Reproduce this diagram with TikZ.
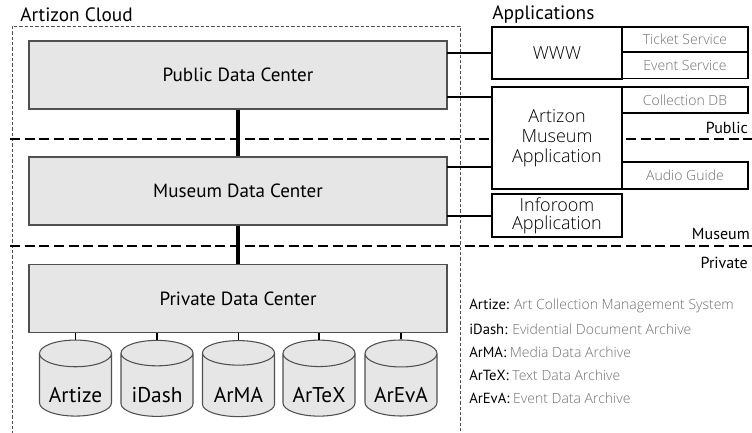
\documentclass[tikz,border=0pt]{standalone}
\usepackage{fontspec}
\setmainfont{PT Sans}
\IfFontExistsTF{Open Sans Light}{\newfontfamily\appfont{Open Sans Light}}{\newfontfamily\appfont{Open Sans}}
\usetikzlibrary{shapes.geometric}
\definecolor{boxfill}{HTML}{E6E6E6}
\definecolor{boxline}{HTML}{505050}
\definecolor{svcgray}{HTML}{707070}
\begin{document}
\begin{tikzpicture}[x=0.75pt,y=-0.75pt,
  dc/.style={draw=boxline,fill=boxfill,line width=0.8pt,minimum width=313.5pt,minimum height=51pt,inner sep=0pt,font=\fontsize{14.3}{16}\selectfont},
  app/.style={draw=black,fill=white,line width=0.8pt,minimum width=97.5pt,inner sep=0pt,align=center,font=\appfont\fontsize{13.5}{15}\selectfont},
  svc/.style={draw=black,fill=white,line width=0.8pt,minimum width=94.5pt,inner sep=0pt,text=svcgray,font=\appfont\fontsize{10.5}{12}\selectfont},
  db/.style={cylinder,shape border rotate=90,aspect=0.5,draw=boxline,fill=boxfill,line width=0.8pt,minimum width=54pt,minimum height=57pt,inner sep=0pt,font=\fontsize{16}{18}\selectfont},
  dblabel/.style={inner sep=0pt,font=\fontsize{16}{18}\selectfont},
  zone/.style={line width=2.2pt,dash pattern=on 7.5pt off 3.5pt},
  thick link/.style={line width=2.4pt},
  link/.style={line width=1.1pt},
  zonelabel/.style={anchor=east,inner sep=0pt,font=\fontsize{12}{13}\selectfont},
  legend/.style={anchor=west,inner sep=0pt,text=svcgray,font=\appfont\fontsize{10.5}{12}\selectfont},
  hdr/.style={anchor=west,inner sep=0pt,font=\fontsize{14.5}{16}\selectfont}
]
\useasboundingbox (0,0) rectangle (752,432);
\fill[white] (0,0) rectangle (752,432);
\newcommand\legkey[1]{{\color{black}\rmfamily\fontsize{11}{12}\selectfont #1}}
% cloud
\draw[boxline,line width=0.6pt,dash pattern=on 2.5pt off 1.5pt] (12,440) -- (12,26) -- (460,26) -- (460,440);
\node[hdr] (cloudlbl) at (20,15) {Artizon Cloud};
\node[hdr] (applbl) at (492,15) {Applications};
% zone lines
\coordinate (zpL) at (10,139); \coordinate (zpR) at (760,139);
\coordinate (zmL) at (10,246); \coordinate (zmR) at (760,246);
\draw[zone] (zpL) -- (zpR);
\draw[zone] (zmL) -- (zmR);
\node[zonelabel] (lpub) at (748,128) {Public};
\node[zonelabel] (lmus) at (750,234) {Museum};
\node[zonelabel] (lpriv) at (748,263) {Private};
% data centers
\node[dc] (pdc) at (238,75) {Public Data Center};
\node[dc] (mdc) at (238,191) {Museum Data Center};
\node[dc] (prdc) at (238,298.5) {Private Data Center};
\draw[thick link] (pdc.south) -- (mdc.north);
\draw[thick link] (mdc.south) -- (prdc.north);
% applications
\node[app,minimum height=39pt] (www) at (557,53) {WWW};
\node[svc,minimum height=18.75pt] (ticket) at (685,39.5) {Ticket Service};
\node[svc,minimum height=19.5pt] (event) at (685,65.5) {Event Service};
\node[app,minimum height=76.5pt] (mapp) at (557,138) {Artizon\\Museum\\Application};
\node[svc,minimum height=19.5pt] (colldb) at (685,100) {Collection DB};
\node[svc,minimum height=20.25pt] (audio) at (685,175.5) {Audio Guide};
\node[app,minimum height=32.25pt] (info) at (557,215.5) {Inforoom\\[-1.5pt]Application};
% links to applications
\coordinate (p1) at (447,53); \coordinate (p2) at (447,97);
\coordinate (m1) at (447,167); \coordinate (m2) at (447,216);
\draw[link] (p1) -- (p1 -| www.west);
\draw[link] (p2) -- (p2 -| mapp.west);
\draw[link] (m1) -- (m1 -| mapp.west);
\draw[link] (m2) -- (m2 -| info.west);
% databases
\foreach \n/\t/\xx in {c1/Artize/75.5, c2/iDash/157, c3/ArMA/238.5, c4/ArTeX/319, c5/ArEvA/401}{
  \node[db] (\n) at (\xx,385) {\phantom{\t}};
  \node[dblabel] (\n l) at (\xx,395) {\t};
  \draw[line width=1pt] (\n.top) -- (\n.top |- prdc.south);
}
% legend
\node[legend] (k1) at (469,306) {\legkey{Artize:} Art Collection Management System};
\node[legend] (k2) at (469,329) {\legkey{iDash:} Evidential Document Archive};
\node[legend] (k3) at (469,352) {\legkey{ArMA:} Media Data Archive};
\node[legend] (k4) at (469,375) {\legkey{ArTeX:} Text Data Archive};
\node[legend] (k5) at (469,398) {\legkey{ArEvA:} Event Data Archive};
\end{tikzpicture}
\end{document}
